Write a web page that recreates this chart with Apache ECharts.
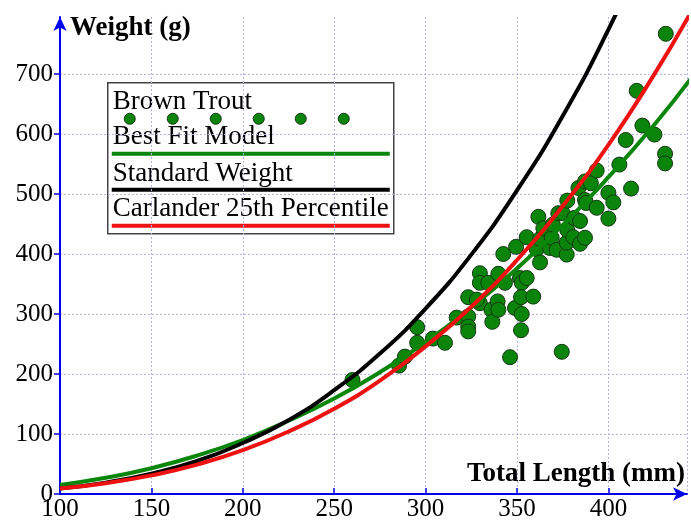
<!DOCTYPE html>
<html>
<head>
<meta charset="utf-8">
<script src="https://cdn.jsdelivr.net/npm/echarts@6/dist/echarts.min.js"></script>
<style>
  html, body { margin: 0; padding: 0; background: #fff; }
  #main { width: 691px; height: 525px; }
</style>
</head>
<body>
<div id="main"></div>
<script>
// fish data: total length (mm) and weight (g)
const troutLength = [260, 285.5, 288.7, 295.4, 295.4, 304, 310.6, 317, 323.3, 323.3, 323.3, 323.3,
  329.7, 329.7, 329.7, 328, 334.3, 336, 336.5, 339.4, 339.8, 339.8, 342.5, 343.4, 346.2, 348.9,
  349.5, 351.6, 352.6, 352.2, 352.6, 352.2, 355.3, 355.3, 358.9, 360.8, 362.6, 362.6, 361.7, 364.4,
  368, 369, 369.6, 371.7, 372.6, 374.5, 375, 377.2, 377.2, 377.5, 377.5, 380.8, 381.2, 383.6, 384.5,
  384.5, 387.2, 387.2, 387.8, 387.2, 390.4, 393.6, 393.6, 400, 400, 402.7, 406, 409.5, 412.4,
  415.5, 418.6, 425.2, 431, 431, 431.4];
const troutWeight = [190, 214, 229, 252, 278, 259, 252, 294, 328, 296, 279, 271,
  368, 352, 318, 324, 352, 307, 287, 321, 367, 307, 400, 352, 228, 310,
  412, 360, 352, 328, 300, 273, 360, 428, 329, 408, 386, 425, 462, 443,
  410, 427, 449, 407, 468, 237, 468, 399, 419, 440, 489, 428, 460, 510, 455,
  417, 521, 490, 485, 427, 518, 539, 477, 502, 459, 486, 549, 590, 509,
  672, 614, 599, 567, 551, 767];

// model curves read at fixed lengths
const curveLength = [100, 125, 150, 175, 200, 225, 250, 275, 300, 325, 350, 375, 400, 425, 445];
const bestFit = [15, 27, 43, 64, 90, 122, 159, 203, 253, 311, 376, 448, 528, 615, 692];
const standardWeight = [9, 19, 34, 55, 85, 123, 173, 234, 309, 399, 506, 630, 774, 940, 1080];
const carlander25 = [9, 18, 31, 49, 73, 104, 142, 189, 246, 312, 390, 480, 582, 699, 802];

const legendNames = ['Brown Trout', 'Best Fit Model', 'Standard Weight', 'Carlander 25th Percentile'];

const serif = '"Liberation Serif", "DejaVu Serif", serif';
const pair = (xs, ys) => xs.map((x, i) => [x, ys[i]]);

const chart = echarts.init(document.getElementById('main'), null, { renderer: 'canvas' });

const axisBlue = '#0000ee';
const gridLine = { show: true, lineStyle: { color: '#b4b4e6', type: [2, 2], width: 1 } };
const hidden = { show: false };

const option = {
  animation: false,
  backgroundColor: '#fff',
  grid: [
    { left: 60, right: 4, top: 17, bottom: 31 },
    // second grid only carries the horizontal grid lines (0..700, none at the top edge)
    { left: 60, right: 4, top: 74, bottom: 31 }
  ],
  xAxis: [{
    type: 'value', min: 100, max: 443, interval: 50,
    name: 'Total Length (mm)', nameLocation: 'end', nameGap: -2,
    nameTextStyle: { fontFamily: serif, fontWeight: 'bold', fontSize: 27, color: '#000',
      align: 'right', verticalAlign: 'bottom', padding: [0, 0, 6, 0] },
    axisLine: { lineStyle: { color: axisBlue, width: 2 }, symbol: ['none', 'arrow'], symbolSize: [10, 14] },
    axisTick: { inside: true, length: 6, lineStyle: { color: axisBlue, width: 1.5 } },
    axisLabel: { showMaxLabel: false, fontFamily: serif, fontSize: 25, color: '#000', margin: 3 },
    splitLine: gridLine
  }, {
    gridIndex: 1, type: 'value', min: 100, max: 443,
    axisLine: hidden, axisTick: hidden, axisLabel: hidden, splitLine: hidden
  }],
  yAxis: [{
    type: 'value', min: 0, max: 795, interval: 100,
    name: 'Weight (g)', nameLocation: 'end', nameGap: 2,
    nameTextStyle: { fontFamily: serif, fontWeight: 'bold', fontSize: 27, color: '#000',
      align: 'left', verticalAlign: 'top', padding: [0, 0, 0, 10] },
    axisLine: { lineStyle: { color: axisBlue, width: 2 }, symbol: ['none', 'arrow'], symbolSize: [10, 14] },
    axisTick: { length: 6, lineStyle: { color: axisBlue, width: 1.5 } },
    axisLabel: { showMaxLabel: false, fontFamily: serif, fontSize: 25, color: '#000', margin: 7 },
    splitLine: hidden
  }, {
    gridIndex: 1, type: 'value', min: 0, max: 700, interval: 100,
    axisLine: hidden, axisTick: hidden, axisLabel: hidden, splitLine: gridLine
  }],
  series: [
    {
      name: legendNames[0], type: 'scatter', z: 1,
      symbolSize: 15,
      itemStyle: { color: '#0b840b', borderColor: '#143814', borderWidth: 1, opacity: 1 },
      data: pair(troutLength, troutWeight)
    },
    {
      name: legendNames[1], type: 'line', z: 3, smooth: true, showSymbol: false,
      lineStyle: { color: '#0a870a', width: 4 },
      data: pair(curveLength, bestFit)
    },
    {
      name: legendNames[2], type: 'line', z: 3, smooth: true, showSymbol: false,
      lineStyle: { color: '#000', width: 4 },
      data: pair(curveLength, standardWeight)
    },
    {
      name: legendNames[3], type: 'line', z: 3, smooth: true, showSymbol: false,
      lineStyle: { color: '#ee1111', width: 4 },
      data: pair(curveLength, carlander25)
    }
  ],
  // the legend box: text with its sample drawn underneath
  graphic: [{
    type: 'group', left: 107, top: 82, z: 10,
    children: [
      { type: 'rect', shape: { x: 0, y: 0, width: 286, height: 151 },
        style: { fill: '#fff', stroke: '#444', lineWidth: 1.5 } },
      { type: 'text', x: 5, y: 19, style: { text: legendNames[0], font: '27px ' + serif, fill: '#000', verticalAlign: 'middle' } },
      ...[22, 65, 108, 151, 193, 236].map(cx => ({
        type: 'circle', shape: { cx: cx, cy: 36, r: 5.5 },
        style: { fill: '#0b840b', stroke: '#143814', lineWidth: 1 }
      })),
      { type: 'text', x: 5, y: 54, style: { text: legendNames[1], font: '27px ' + serif, fill: '#000', verticalAlign: 'middle' } },
      { type: 'line', shape: { x1: 4, y1: 71, x2: 282, y2: 71 }, style: { stroke: '#0a870a', lineWidth: 4 } },
      { type: 'text', x: 5, y: 91, style: { text: legendNames[2], font: '27px ' + serif, fill: '#000', verticalAlign: 'middle' } },
      { type: 'line', shape: { x1: 4, y1: 107, x2: 282, y2: 107 }, style: { stroke: '#000', lineWidth: 4 } },
      { type: 'text', x: 5, y: 126, style: { text: legendNames[3], font: '27px ' + serif, fill: '#000', verticalAlign: 'middle' } },
      { type: 'line', shape: { x1: 4, y1: 143, x2: 282, y2: 143 }, style: { stroke: '#ee1111', lineWidth: 4 } }
    ]
  }]
};

chart.setOption(option);
</script>
</body>
</html>
